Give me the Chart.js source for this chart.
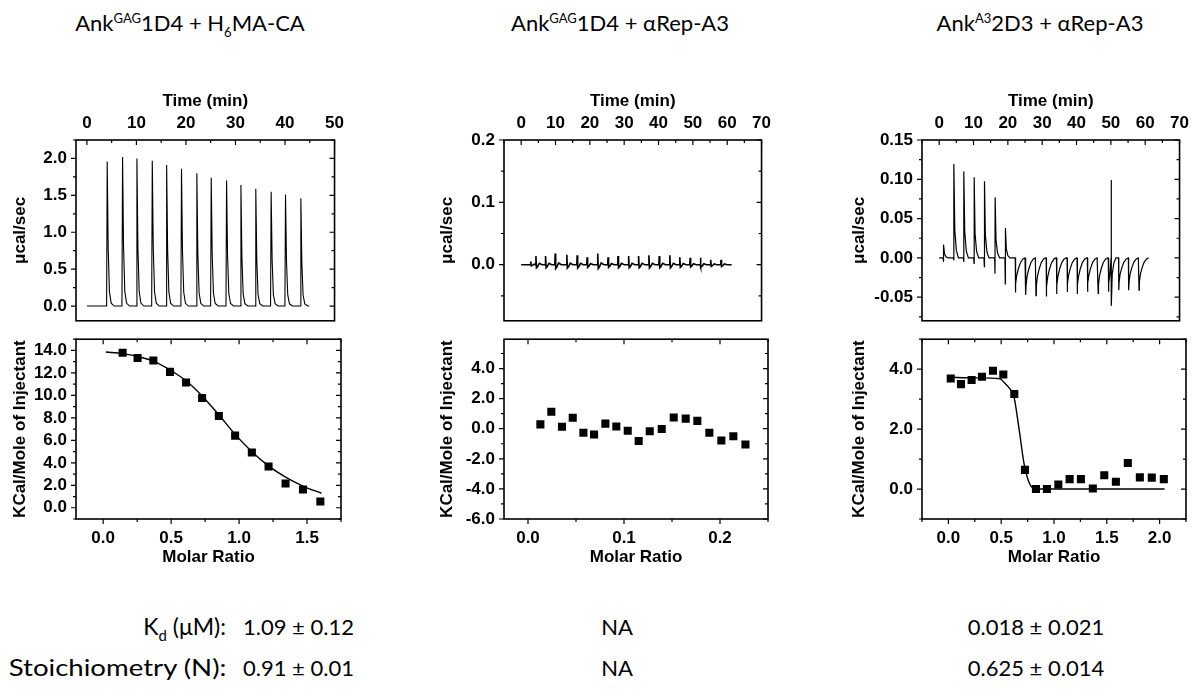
<!DOCTYPE html>
<html>
<head>
<meta charset="utf-8">
<script src="https://cdn.jsdelivr.net/npm/chart.js@4.4.1/dist/chart.umd.min.js"></script>
<style>
  body { margin: 0; background: #fff; }
  #page { position: relative; width: 1200px; height: 699px; overflow: hidden; font-family: "Lato", "Open Sans", sans-serif; color: #000; }
  canvas { position: absolute; }
  .ttl { position: absolute; top: 9px; font-size: 22px; white-space: nowrap; transform: translateX(-50%); }
  .ttl sup { font-size: 13px; vertical-align: 8px; }
  .ttl sub { font-size: 13px; vertical-align: -6px; }
  .lab { position: absolute; right: 974px; font-size: 23px; white-space: nowrap; transform-origin: right center; }
  .wide { transform: scaleX(1.2); }
  .val { position: absolute; font-size: 22px; white-space: nowrap; }
  .mid { transform: translateX(-50%); }
  .lab sub { font-size: 15px; vertical-align: -6px; }
</style>
</head>
<body>
<div id="page">
  <div class="ttl" style="left:190px">Ank<sup>GAG</sup>1D4 + H<sub>6</sub>MA-CA</div>
  <div class="ttl" style="left:620px">Ank<sup>GAG</sup>1D4 + αRep-A3</div>
  <div class="ttl" style="left:1040px">Ank<sup>A3</sup>2D3 + αRep-A3</div>

  <canvas id="topA"></canvas><canvas id="botA"></canvas>
  <canvas id="topB"></canvas><canvas id="botB"></canvas>
  <canvas id="topC"></canvas><canvas id="botC"></canvas>

  <div class="lab" style="top:612px">K<sub>d</sub> (μM):</div>
  <div class="val" style="left:243px; top:613px">1.09 ± 0.12</div>
  <div class="val mid" style="left:617px; top:613px">NA</div>
  <div class="val mid" style="left:1036px; top:613px">0.018 ± 0.021</div>
  <div class="lab wide" style="top:653px">Stoichiometry (N):</div>
  <div class="val" style="left:243px; top:654px">0.91 ± 0.01</div>
  <div class="val mid" style="left:617px; top:654px">NA</div>
  <div class="val mid" style="left:1036px; top:654px">0.625 ± 0.014</div>
</div>
<script>
// ---- panel A: AnkGAG1D4 + H6MA-CA ----
const injTimesA   = [4.1, 7.2, 10.1, 13.2, 16.1, 19.1, 22.2, 25.1, 28.2, 31.1, 34.1, 37.2, 40.1, 43.2];
const injHeightsA = [1.96, 2.02, 2.00, 1.97, 1.91, 1.86, 1.80, 1.74, 1.70, 1.64, 1.59, 1.55, 1.51, 1.46];
const ratioA = [0.143, 0.253, 0.369, 0.492, 0.610, 0.728, 0.851, 0.971, 1.094, 1.217, 1.342, 1.470, 1.598];
const heatA  = [13.80, 13.33, 13.10, 12.09, 11.14, 9.76, 8.16, 6.42, 4.91, 3.67, 2.16, 1.62, 0.56];
const fitRatioA = [0.02, 0.143, 0.253, 0.369, 0.492, 0.610, 0.728, 0.851, 0.971, 1.094, 1.217, 1.342, 1.470, 1.606];
const fitHeatA  = [13.86, 13.72, 13.47, 13.05, 12.26, 11.30, 9.95, 8.27, 6.53, 4.99, 3.73, 2.72, 1.93, 1.29];

// ---- panel B: AnkGAG1D4 + aRep-A3 ----
const injTimesB   = [2.8, 4.3, 7.1, 9.9, 13.3, 16.3, 19.2, 22.3, 25.3, 28.2, 31.3, 34.2, 37.2, 40.2, 43.3, 46.2, 49.2, 52.2, 55.2, 58.2];
const injHeightsB = [0.005, 0.014, 0.014, 0.018, 0.016, 0.015, 0.012, 0.018, 0.012, 0.014, 0.014, 0.014, 0.015, 0.014, 0.015, 0.012, 0.011, 0.011, 0.008, 0.008];
const ratioB = [0.0129, 0.0243, 0.0354, 0.0466, 0.0577, 0.0688, 0.0806, 0.0920, 0.1039, 0.1153, 0.1268, 0.1393, 0.1518, 0.1643, 0.1764, 0.1889, 0.2014, 0.2139, 0.2265];
const heatB  = [0.29, 1.13, 0.13, 0.73, -0.27, -0.38, 0.34, 0.15, -0.13, -0.82, -0.17, -0.02, 0.75, 0.67, 0.52, -0.27, -0.78, -0.50, -1.05];

// ---- panel C: AnkA32D3 + aRep-A3 ----
const posTimesC   = [1.3, 4.3, 7.2, 10.2, 13.2, 16.3, 19.3];
const posHeightsC = [0.017, 0.1195, 0.110, 0.1025, 0.0976, 0.077, 0.038];
const posDipsC    = [-0.005, -0.003, -0.005, -0.007, -0.011, -0.020, -0.033];
const negTimesC   = [22.2, 25.2, 28.2, 31.2, 34.2, 37.3, 40.2, 43.2, 46.3, 49.3, 52.3, 55.2, 58.2];
const negDepthsC  = [-0.044, -0.047, -0.048, -0.049, -0.046, -0.0435, -0.046, -0.043, -0.045, -0.043, -0.041, -0.041, -0.041];
const spikeC = [[50.07, 0], [50.1, 0.099], [50.15, -0.061], [50.4, -0.02], [50.9, -0.006], [51.5, 0]];
const ratioC = [0.022, 0.119, 0.220, 0.318, 0.422, 0.520, 0.624, 0.725, 0.829, 0.933, 1.041, 1.148, 1.255, 1.368, 1.476, 1.586, 1.699, 1.813, 1.926, 2.040];
const heatC  = [3.69, 3.50, 3.64, 3.75, 3.95, 3.82, 3.17, 0.64, 0.0, 0.0, 0.15, 0.33, 0.33, 0.02, 0.46, 0.24, 0.87, 0.39, 0.38, 0.33];
const fitRatioC = [0.0, 0.25, 0.488, 0.526, 0.583, 0.621, 0.668, 0.716, 0.763, 0.81, 0.858, 1.2, 2.047];
const fitHeatC  = [3.73, 3.71, 3.68, 3.56, 3.34, 3.08, 2.03, 0.86, 0.23, 0.02, 0.0, 0.0, 0.0];

// peak shapes (minutes from injection, fraction of height)
const peakShapeT = [-0.12, 0, 0.2, 0.45, 0.8, 1.4];
const peakShapeF = [0, 1, 0.4, 0.1, 0.02, 0];
const blipShapeT = [-0.1, 0, 0.15, 0.5, 1.0, 1.8];
const blipShapeF = [0, 1, -0.35, -0.2, 0.15, 0];
const posShapeT = [-0.15, -0.05, 0, 0.25, 0.7, 1.3];
const posShapeF = [0, 0, 1, 0.3, 0.08, 0];
const posShapeD = [0, 1, 0, 0, 0, 0];
const negShapeT = [-0.05, 0, 0.1, 0.4, 0.9, 1.5, 2.2, 2.8];
const negShapeF = [0, 1, 0.75, 0.5, 0.3, 0.13, 0.03, 0];

// tick labels
const timeTicksA = [0, 10, 20, 30, 40, 50];
const timeTicksBC = [0, 10, 20, 30, 40, 50, 60, 70];
const powTicksA = [0, 0.5, 1.0, 1.5, 2.0];
const powTicksB = [0, 0.1, 0.2];
const powTicksC = [-0.05, 0, 0.05, 0.10, 0.15];
const ratioTicksA = [0, 0.5, 1.0, 1.5];
const ratioTicksB = [0, 0.1, 0.2];
const ratioTicksC = [0, 0.5, 1.0, 1.5, 2.0];
const heatTicksA = [0, 2, 4, 6, 8, 10, 12, 14];
const heatTicksB = [-6, -4, -2, 0, 2, 4];
const heatTicksC = [0, 2, 4];

function events(times, shapeT, valsFor) {
  return times.map((t, i) => ({ t, pts: shapeT.map((dt, k) => [dt, valsFor(i, k)]) }));
}
function buildTrace(start, end, evs) {
  evs.sort((a, b) => a.t - b.t);
  const out = [{ x: start, y: 0 }];
  evs.forEach((ev, i) => {
    const next = evs[i + 1];
    ev.pts.forEach(([dt, v]) => {
      const t = ev.t + dt;
      if (next && t >= next.t + next.pts[0][0]) return;
      out.push({ x: t, y: v });
    });
  });
  out.push({ x: end, y: 0 });
  return out;
}
const xy = (xs, ys) => xs.map((x, i) => ({ x, y: ys[i] }));

const traceA = buildTrace(0, 44.9, events(injTimesA, peakShapeT, (i, k) => injHeightsA[i] * peakShapeF[k]));
const traceB = buildTrace(0, 61.3, events(injTimesB, blipShapeT, (i, k) => injHeightsB[i] * blipShapeF[k]));
const traceC = buildTrace(0, 60.9, [
  ...events(posTimesC, posShapeT, (i, k) => posHeightsC[i] * posShapeF[k] + posDipsC[i] * posShapeD[k]),
  ...events(negTimesC, negShapeT, (i, k) => negDepthsC[i] * negShapeF[k]),
  { t: spikeC[0][0], pts: spikeC.map(([t, v]) => [t - spikeC[0][0], v]) }
]);

const FONT = { family: '"Liberation Sans", Arial, sans-serif', size: 17, weight: 'bold' };

// Origin-style frame with tick marks: left/bottom outward, top/right inward
const frame = {
  id: 'frame',
  afterDraw(chart, args, o) {
    const { ctx, chartArea: a } = chart;
    const xs = chart.scales.x, ys = chart.scales.y;
    ctx.save();
    ctx.strokeStyle = '#000';
    ctx.lineWidth = 1.6;
    ctx.strokeRect(a.left, a.top, a.right - a.left, a.bottom - a.top);
    ctx.lineWidth = 1.2;
    const marks = (sc) => {
      const maj = sc.ticks.map(t => t.value);
      const step = maj[1] - maj[0];
      const res = maj.map(v => [v, 5]);
      for (let v = maj[0] - step / 2; v <= sc.max + 1e-9; v += step) {
        if (v >= sc.min - 1e-9) res.push([v, 3]);
      }
      return res;
    };
    ctx.beginPath();
    marks(xs).forEach(([v, len]) => {
      const p = xs.getPixelForValue(v);
      ctx.moveTo(p, a.top); ctx.lineTo(p, a.top + len);
      if (o.bottomTicks) { ctx.moveTo(p, a.bottom); ctx.lineTo(p, a.bottom + len); }
    });
    marks(ys).forEach(([v, len]) => {
      const p = ys.getPixelForValue(v);
      ctx.moveTo(a.left - len, p); ctx.lineTo(a.left, p);
      ctx.moveTo(a.right - len, p); ctx.lineTo(a.right, p);
    });
    ctx.stroke();
    ctx.restore();
  }
};

function axis(pos, min, max, majors, dec, title, size, titlePad) {
  const horiz = pos === 'top' || pos === 'bottom';
  return {
    type: 'linear', position: pos, min, max,
    afterBuildTicks: s => { s.ticks = majors.map(v => ({ value: v })); },
    afterFit: s => { if (horiz) s.height = size; else s.width = size; },
    grid: { display: false, drawTicks: false },
    border: { display: false },
    ticks: {
      color: '#000', font: FONT, autoSkip: false, maxRotation: 0,
      padding: pos === 'top' ? 6 : 9,
      callback: v => v.toFixed(dec)
    },
    title: {
      display: true, text: title, color: '#000', font: FONT,
      padding: pos === 'bottom' ? { bottom: titlePad, top: 0 } : { top: titlePad, bottom: 0 }
    }
  };
}

function place(id, left, top, width, height) {
  const c = document.getElementById(id);
  c.width = width; c.height = height;
  c.style.left = left + 'px'; c.style.top = top + 'px';
  return c;
}

const baseOpts = (padding) => ({
  responsive: false, animation: false, events: [],
  layout: { padding },
  plugins: { legend: { display: false }, tooltip: { enabled: false } }
});

function panel(key, geo, top, bottom) {
  const w = geo.plotRight + 9 - geo.canvasLeft;
  const yw = geo.plotLeft - geo.canvasLeft;
  const yPad = geo.yTitleX - geo.canvasLeft - 10.2;

  new Chart(place('top' + key, geo.canvasLeft, 60, w, 280), {
    type: 'scatter',
    data: { datasets: [{
      data: top.trace, showLine: true, borderColor: '#000', borderWidth: top.lineWidth,
      pointRadius: 0, tension: 0
    }] },
    options: {
      ...baseOpts({ left: 0, right: 9, top: 0, bottom: 11 }),
      scales: {
        x: axis('top', top.xMin, top.xMax, top.xTicks, 0, 'Time (min)', 80, 31),
        y: axis('left', top.yMin, top.yMax, top.yTicks, top.yDec, 'μcal/sec', yw, yPad)
      },
      plugins: { ...baseOpts().plugins, frame: { bottomTicks: false } }
    },
    plugins: [frame]
  });

  const sets = [{
    data: bottom.points, borderColor: '#000', backgroundColor: '#000',
    pointStyle: 'rect', pointRadius: 5.7, borderWidth: 0
  }];
  if (bottom.fit) sets.unshift({
    data: bottom.fit, showLine: true, borderColor: '#000', borderWidth: 1.4,
    pointRadius: 0, cubicInterpolationMode: 'monotone'
  });
  new Chart(place('bot' + key, geo.canvasLeft, 320, w, 260), {
    type: 'scatter',
    data: { datasets: sets },
    options: {
      ...baseOpts({ left: 0, right: 9, top: 9, bottom: 0 }),
      scales: {
        x: axis('bottom', bottom.xMin, bottom.xMax, bottom.xTicks, 1, 'Molar Ratio', 61, 12),
        y: axis('left', bottom.yMin, bottom.yMax, bottom.yTicks, 1, 'KCal/Mole of Injectant', yw, yPad)
      },
      plugins: { ...baseOpts().plugins, frame: { bottomTicks: true } }
    },
    plugins: [frame]
  });
}

panel('A', { canvasLeft: 0, plotLeft: 76, plotRight: 341, yTitleX: 20 },
  { trace: traceA, lineWidth: 1.1, xMin: -2.2, xMax: 50, xTicks: timeTicksA, yMin: -0.2, yMax: 2.25, yTicks: powTicksA, yDec: 1 },
  { points: xy(ratioA, heatA), fit: xy(fitRatioA, fitHeatA), xMin: -0.2, xMax: 1.75, xTicks: ratioTicksA, yMin: -1, yMax: 15, yTicks: heatTicksA });

panel('B', { canvasLeft: 420, plotLeft: 504, plotRight: 768, yTitleX: 447 },
  { trace: traceB, lineWidth: 1.6, xMin: -5, xMax: 70, xTicks: timeTicksBC, yMin: -0.09, yMax: 0.2, yTicks: powTicksB, yDec: 1 },
  { points: xy(ratioB, heatB), fit: null, xMin: -0.025, xMax: 0.25, xTicks: ratioTicksB, yMin: -6, yMax: 5.95, yTicks: heatTicksB });

panel('C', { canvasLeft: 830, plotLeft: 922, plotRight: 1186, yTitleX: 859 },
  { trace: traceC, lineWidth: 1.2, xMin: -5, xMax: 70, xTicks: timeTicksBC, yMin: -0.08, yMax: 0.15, yTicks: powTicksC, yDec: 2 },
  { points: xy(ratioC, heatC), fit: xy(fitRatioC, fitHeatC), xMin: -0.25, xMax: 2.25, xTicks: ratioTicksC, yMin: -1, yMax: 5, yTicks: heatTicksC });
</script>
</body>
</html>
